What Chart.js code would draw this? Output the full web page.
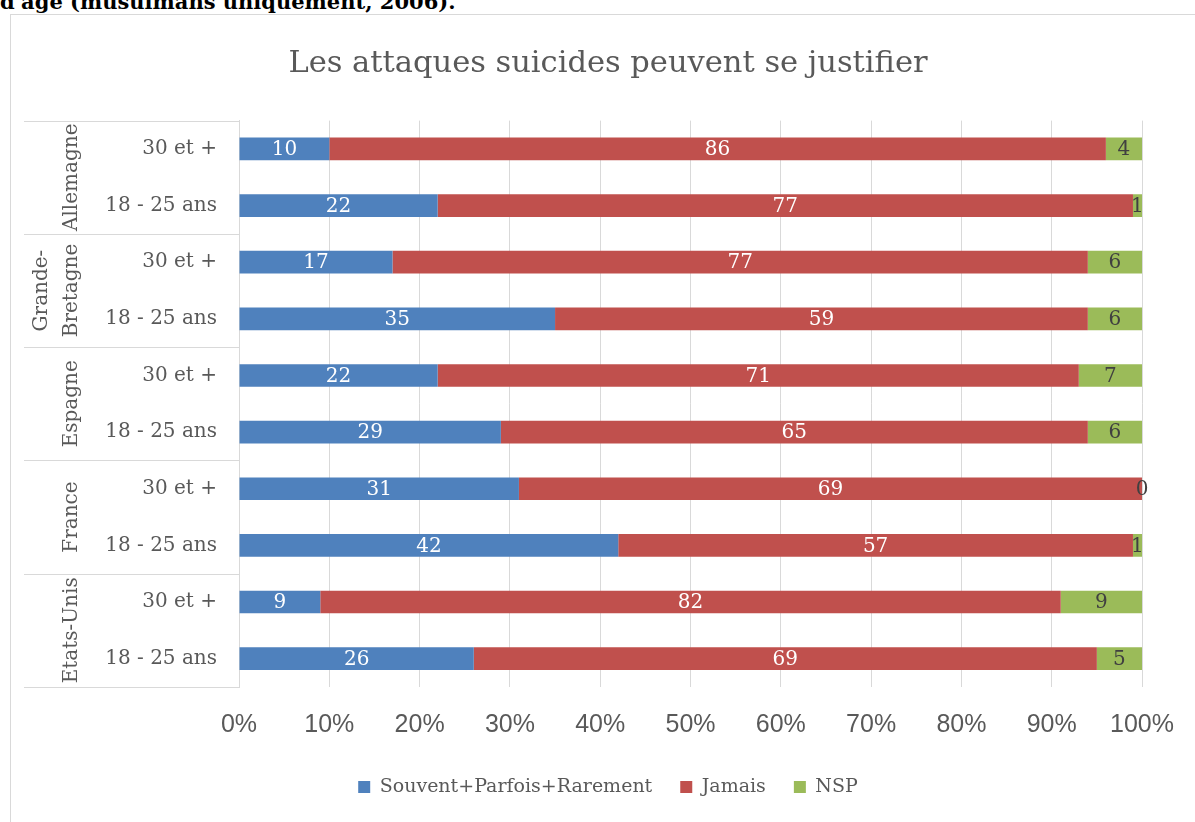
<!DOCTYPE html>
<html>
<head>
<meta charset="utf-8">
<script src="https://cdn.jsdelivr.net/npm/chart.js@4"></script>
<style>
  html, body { margin: 0; padding: 0; background: #fff; overflow: hidden; }
  body { width: 1195px; height: 822px; position: relative; }
  #legende { position: absolute; left: 0; top: -8px; font: bold 21px "DejaVu Serif", serif; line-height: 20px; color: #000; white-space: nowrap; }
  #cadre { position: absolute; left: 10px; top: 14px; width: 1300px; height: 900px; border: 1px solid #d9d9d9; }
  #zone { position: absolute; left: 0; top: 0; width: 1195px; height: 822px; }
</style>
</head>
<body>
<div id="legende">d'âge (musulmans uniquement, 2006).</div>
<div id="cadre"></div>
<div id="zone"><canvas id="graphique"></canvas></div>
<script>
// Données (de haut en bas)
const categories = ['30 et +', '18 - 25 ans', '30 et +', '18 - 25 ans', '30 et +', '18 - 25 ans', '30 et +', '18 - 25 ans', '30 et +', '18 - 25 ans'];
const pays = [['Allemagne'], ['Grande-', 'Bretagne'], ['Espagne'], ['France'], ['Etats-Unis']];
const souvent = [10, 22, 17, 35, 22, 29, 31, 42, 9, 26];
const jamais = [86, 77, 77, 59, 71, 65, 69, 57, 82, 69];
const nsp = [4, 1, 6, 6, 7, 6, 0, 1, 9, 5];
const graduations = ['0%', '10%', '20%', '30%', '40%', '50%', '60%', '70%', '80%', '90%', '100%'];

const gris = '#595959';
const trait = '#d9d9d9';
const serif = '"DejaVu Serif", serif';

// étiquettes de valeur au centre des barres
const etiquettes = {
  id: 'etiquettes',
  afterDatasetsDraw(chart) {
    const ctx = chart.ctx;
    ctx.save();
    ctx.font = '20px ' + serif;
    ctx.textAlign = 'center';
    ctx.textBaseline = 'middle';
    chart.data.datasets.forEach((ds, i) => {
      const meta = chart.getDatasetMeta(i);
      meta.data.forEach((bar, j) => {
        ctx.fillStyle = i === 2 ? '#404040' : '#ffffff';
        ctx.fillText(String(ds.data[j]), (bar.x + bar.base) / 2, bar.y + 1);
      });
    });
    ctx.restore();
  }
};

// axe des catégories à deux niveaux (pays)
const groupes = {
  id: 'groupes',
  afterDraw(chart) {
    const ctx = chart.ctx;
    const y = chart.scales.y;
    const gauche = 24;
    const droite = chart.chartArea.left;
    const pas = y.getPixelForValue(1) - y.getPixelForValue(0);
    ctx.save();
    ctx.strokeStyle = trait;
    ctx.lineWidth = 1;
    for (let g = 0; g <= pays.length; g++) {
      const yy = Math.round(y.getPixelForValue(g * 2) - pas / 2) + 0.5;
      ctx.beginPath();
      ctx.moveTo(gauche, yy);
      ctx.lineTo(droite, yy);
      ctx.stroke();
    }
    ctx.fillStyle = gris;
    ctx.font = '20px ' + serif;
    ctx.textAlign = 'center';
    ctx.textBaseline = 'middle';
    pays.forEach((lignes, g) => {
      const centre = (y.getPixelForValue(g * 2) + y.getPixelForValue(g * 2 + 1)) / 2;
      lignes.forEach((txt, k) => {
        const xx = 72 - (lignes.length - 1 - k) * 30;
        ctx.save();
        ctx.translate(xx, centre);
        ctx.rotate(-Math.PI / 2);
        ctx.fillText(txt, 0, 0);
        ctx.restore();
      });
    });
    ctx.restore();
  }
};

new Chart(document.getElementById('graphique'), {
  type: 'bar',
  data: {
    labels: categories,
    datasets: [
      { label: 'Souvent+Parfois+Rarement', data: souvent, backgroundColor: '#4F81BD' },
      { label: 'Jamais', data: jamais, backgroundColor: '#C0504D' },
      { label: 'NSP', data: nsp, backgroundColor: '#9BBB59' }
    ]
  },
  options: {
    indexAxis: 'y',
    responsive: true,
    maintainAspectRatio: false,
    animation: false,
    events: [],
    layout: { padding: { left: 21, right: 0, top: 14, bottom: 15.5 } },
    datasets: { bar: { categoryPercentage: 1, barPercentage: 0.4 } },
    scales: {
      x: {
        stacked: true,
        min: 0,
        max: 100,
        ticks: {
          stepSize: 10,
          color: gris,
          font: { family: '"Liberation Sans", Arial, sans-serif', size: 25, lineHeight: 1.4 },
          padding: 21,
          callback: (v, i) => graduations[i]
        },
        grid: { color: trait, drawTicks: false },
        border: { display: false },
        afterFit: s => { s.height = 62.5; }
      },
      y: {
        stacked: true,
        ticks: { color: gris, font: { family: serif, size: 20 }, padding: 22 },
        grid: { display: false, drawTicks: false },
        border: { display: true, color: trait },
        afterFit: s => { s.width = 218; }
      },
      y2: {
        type: 'linear',
        position: 'right',
        min: 0,
        max: 1,
        ticks: { display: false },
        grid: { display: false, drawTicks: false },
        border: { display: false },
        afterFit: s => { s.width = 53; }
      }
    },
    plugins: {
      title: {
        display: true,
        text: 'Les attaques suicides peuvent se justifier',
        color: gris,
        font: { family: serif, size: 30.5, weight: 'normal' },
        padding: { top: 32, bottom: 38 }
      },
      legend: {
        position: 'bottom',
        labels: {
          color: gris,
          font: { family: serif, size: 19 },
          boxWidth: 12,
          boxHeight: 12,
          padding: 28
        }
      },
      tooltip: { enabled: false }
    }
  },
  plugins: [etiquettes, groupes]
});
</script>
</body>
</html>
